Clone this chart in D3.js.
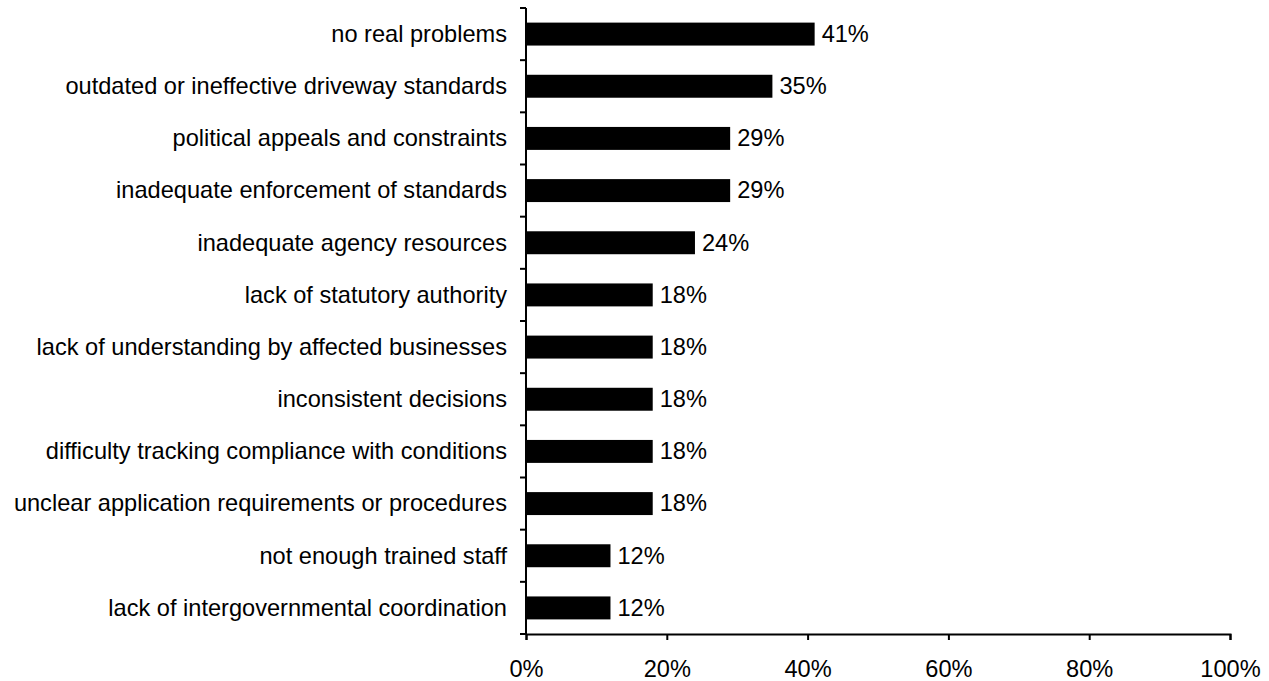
<!DOCTYPE html>
<html>
<head>
<meta charset="utf-8">
<script src="https://cdn.jsdelivr.net/npm/d3@7"></script>
<style>
  html, body { margin: 0; padding: 0; background: #fff; }
  svg { display: block; font-family: "Liberation Sans", Arial, sans-serif; }
</style>
</head>
<body>
<svg id="chart" width="1269" height="681"></svg>
<script>
// Reported problems with driveway permitting (share of respondents)
const categories = [
  "no real problems",
  "outdated or ineffective driveway standards",
  "political appeals and constraints",
  "inadequate enforcement of standards",
  "inadequate agency resources",
  "lack of statutory authority",
  "lack of understanding by affected businesses",
  "inconsistent decisions",
  "difficulty tracking compliance with conditions",
  "unclear application requirements or procedures",
  "not enough trained staff",
  "lack of intergovernmental coordination"
];
const values = [41, 35, 29, 29, 24, 18, 18, 18, 18, 18, 12, 12];
const xTicks = [0, 20, 40, 60, 80, 100];

const svg = d3.select("#chart");
const margin = { top: 8, right: 39, bottom: 47, left: 526 };
const width = 1269 - margin.left - margin.right;
const height = 681 - margin.top - margin.bottom;
const g = svg.append("g").attr("transform", `translate(${margin.left},${margin.top})`);

const x = d3.scaleLinear().domain([0, 100]).range([0, width]);
const y = d3.scaleBand().domain(categories).range([0, height]).paddingInner(0.56).paddingOuter(0.28);
const fontSize = 23.6;

// bars
g.selectAll("rect.bar")
  .data(categories)
  .join("rect")
  .attr("class", "bar")
  .attr("x", x(0))
  .attr("y", d => y(d))
  .attr("width", (d, i) => x(values[i]) - x(0))
  .attr("height", y.bandwidth())
  .attr("fill", "#000");

// value labels
g.selectAll("text.val")
  .data(categories)
  .join("text")
  .attr("class", "val")
  .attr("x", (d, i) => x(values[i]) + 7)
  .attr("y", d => y(d) + y.bandwidth() / 2)
  .attr("dy", "0.33em")
  .attr("font-size", fontSize)
  .attr("fill", "#000")
  .text((d, i) => values[i] + "%");

// category labels
g.selectAll("text.cat")
  .data(categories)
  .join("text")
  .attr("class", "cat")
  .attr("x", -19)
  .attr("y", d => y(d) + y.bandwidth() / 2)
  .attr("dy", "0.33em")
  .attr("text-anchor", "end")
  .attr("font-size", fontSize)
  .attr("fill", "#000")
  .text(d => d);

// y axis: line with ticks at band boundaries
const boundaries = d3.range(categories.length + 1).map(i => i * height / categories.length);
const yAxis = g.append("g").attr("class", "y-axis");
yAxis.append("line")
  .attr("x1", 0).attr("x2", 0)
  .attr("y1", 0).attr("y2", height)
  .attr("stroke", "#000").attr("stroke-width", 2);
yAxis.selectAll("line.tick")
  .data(boundaries)
  .join("line")
  .attr("class", "tick")
  .attr("x1", -6).attr("x2", 0)
  .attr("y1", d => d).attr("y2", d => d)
  .attr("stroke", "#000").attr("stroke-width", 2);

// x axis
const xAxis = g.append("g")
  .attr("transform", `translate(0,${height})`)
  .call(d3.axisBottom(x).tickValues(xTicks).tickFormat(d => d + "%").tickSize(6).tickPadding(20));
xAxis.select(".domain").attr("stroke", "#000").attr("stroke-width", 2);
xAxis.selectAll(".tick line").attr("stroke", "#000").attr("stroke-width", 2);
xAxis.selectAll(".tick text")
  .attr("font-size", fontSize)
  .attr("font-family", "Liberation Sans, Arial, sans-serif")
  .attr("fill", "#000");
</script>
</body>
</html>
